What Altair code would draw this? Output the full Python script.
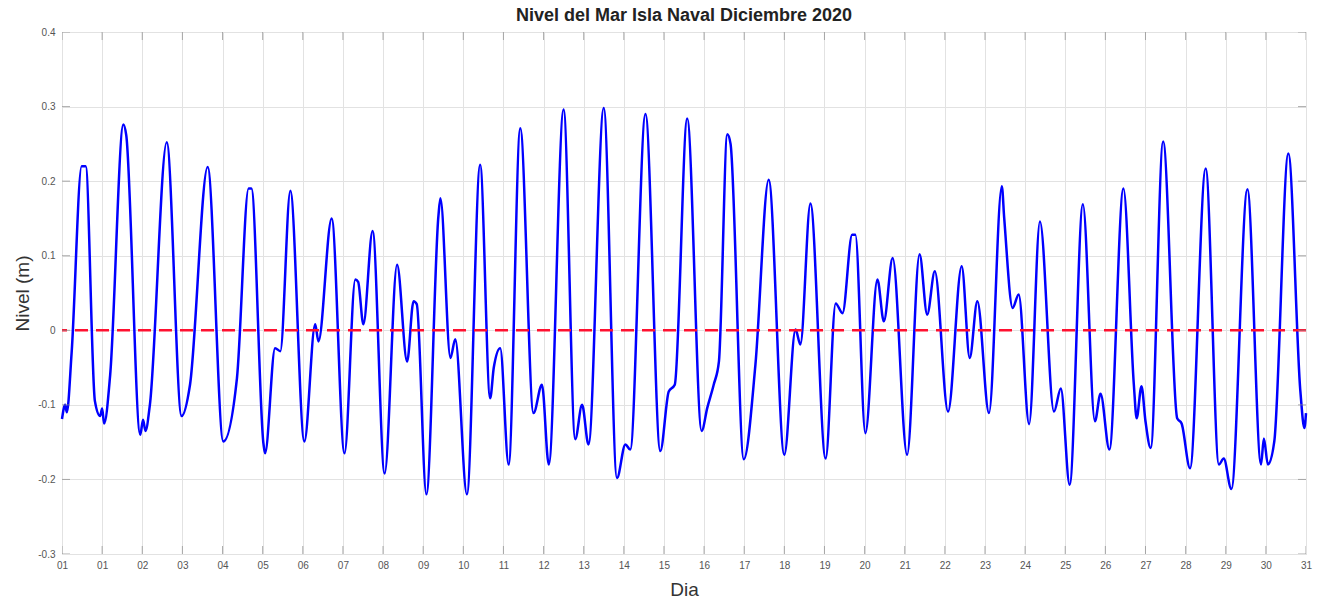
import altair as alt
import pandas as pd

# Time in days from 1 Dec 2020 00:00 (key points)
t_days = [
    0.00, 0.08, 0.12, 0.24, 0.49, 0.59, 0.82, 0.95, 1.00, 1.05, 1.20, 1.53, 1.60,
    1.95, 2.02, 2.08, 2.19, 2.61, 2.98, 3.19, 3.63, 4.02, 4.36, 4.65, 4.72,
    5.02, 5.06, 5.31, 5.44, 5.69, 6.04, 6.31, 6.39, 6.72, 7.04, 7.31, 7.38,
    7.51, 7.74, 8.04, 8.35, 8.60, 8.76, 8.84, 9.08, 9.38, 9.43, 9.68, 9.80,
    10.09, 10.42, 10.67, 10.76, 10.92, 11.13, 11.42, 11.75, 11.96, 12.13,
    12.50, 12.79, 12.96, 13.12, 13.50, 13.83, 14.04, 14.16, 14.54, 14.91,
    15.12, 15.27, 15.58, 15.94, 16.08, 16.24, 16.37, 16.58, 16.66, 16.99,
    17.28, 17.61, 18.00, 18.28, 18.40, 18.65, 19.03, 19.28, 19.45, 19.69,
    19.77, 20.02, 20.32, 20.48, 20.70, 21.06, 21.37, 21.56, 21.75, 22.08,
    22.42, 22.62, 22.81, 23.10, 23.42, 23.48, 23.69, 23.84, 24.10, 24.37,
    24.72, 24.89, 25.11, 25.44, 25.74, 25.88, 26.10, 26.45, 26.71, 26.78,
    26.90, 27.00, 27.13, 27.44, 27.79, 27.90, 28.11, 28.50, 28.83, 28.95,
    29.14, 29.54, 29.88, 29.95, 30.05, 30.21, 30.56, 30.86, 30.96, 31.00,
]
nivel = [
    -0.119, -0.100, -0.110, -0.030, 0.220, 0.220, -0.095, -0.115, -0.105, -0.125, -0.060, 0.276, 0.262,
    -0.140, -0.120, -0.135, -0.100, 0.252, -0.115, -0.073, 0.219, -0.149, -0.064, 0.190, 0.190,
    -0.152, -0.165, -0.024, -0.028, 0.187, -0.149, 0.008, -0.015, 0.150, -0.165, 0.068, 0.065,
    0.008, 0.133, -0.192, 0.088, -0.042, 0.039, 0.035, -0.220, 0.153, 0.177, -0.037, -0.012,
    -0.220, 0.222, -0.091, -0.050, -0.024, -0.180, 0.271, -0.111, -0.073, -0.180,
    0.296, -0.146, -0.100, -0.153, 0.298, -0.198, -0.153, -0.160, 0.290, -0.162,
    -0.082, -0.073, 0.284, -0.135, -0.104, -0.073, -0.042, 0.263, 0.250, -0.173,
    -0.046, 0.202, -0.167, 0.001, -0.019, 0.170, -0.172, 0.036, 0.023, 0.128,
    0.128, -0.138, 0.068, 0.012, 0.097, -0.167, 0.102, 0.021, 0.079, -0.109,
    0.086, -0.037, 0.039, -0.111, 0.193, 0.150, 0.030, 0.048, -0.126, 0.146,
    -0.109, -0.078, -0.207, 0.169, -0.122, -0.085, -0.160, 0.190, -0.073, -0.118,
    -0.075, -0.122, -0.158, 0.253, -0.118, -0.125, -0.185, 0.217, -0.180, -0.172,
    -0.213, 0.189, -0.180, -0.145, -0.180, -0.149, 0.237, -0.082, -0.131, -0.111,
]

x_ticks = list(range(0, 32))
y_ticks = [-0.3, -0.2, -0.1, 0.0, 0.1, 0.2, 0.3, 0.4]
title_text = "Nivel del Mar Isla Naval Diciembre 2020"

FONT = "Liberation Sans"
GRID = "#e2e2e2"
FRAME = "#8a8a8a"

df = pd.DataFrame({"t": t_days, "nivel": nivel})

x_scale = alt.Scale(domain=[0, 31], nice=False, zero=False)
y_scale = alt.Scale(domain=[-0.3, 0.4], nice=False, zero=False)

x_axis = alt.Axis(
    values=x_ticks,
    labelExpr="datum.value < 1 ? '01' : (datum.value < 10 ? '0' + datum.value : '' + datum.value)",
    title="Dia", grid=True, gridColor=GRID, ticks=False, domain=False,
    labelFlush=False, labelOverlap=False,
    labelFont=FONT, labelFontSize=10, labelColor="#555555", labelPadding=6,
    titleFont=FONT, titleFontSize=19, titleFontWeight="normal", titleColor="#333333",
    titlePadding=10,
)
y_axis = alt.Axis(
    values=y_ticks,
    labelExpr="datum.value == 0 ? '0' : (datum.value < 0 ? '-' : '') + format(abs(datum.value), '.1f')",
    title="Nivel (m)", grid=True, gridColor=GRID, ticks=False, domain=False,
    labelFlush=False, labelOverlap=False,
    labelFont=FONT, labelFontSize=10, labelColor="#555555", labelPadding=7,
    titleFont=FONT, titleFontSize=19, titleFontWeight="normal", titleColor="#333333",
    titlePadding=5,
)

line = alt.Chart(df).mark_line(color="#0000ff", strokeWidth=2.5, interpolate="monotone").encode(
    x=alt.X("t:Q", scale=x_scale, axis=x_axis),
    y=alt.Y("nivel:Q", scale=y_scale, axis=y_axis),
)

zero = alt.Chart(pd.DataFrame({"z": [0.0]})).mark_rule(
    color="#ff1030", strokeWidth=2.4, strokeDash=[13, 8]
).encode(y=alt.Y("z:Q", scale=y_scale))

xt = pd.DataFrame({"x": x_ticks * 2, "y": [-0.3] * len(x_ticks) + [0.4] * len(x_ticks)})
yt = pd.DataFrame({"x": [0] * len(y_ticks) + [31] * len(y_ticks), "y": y_ticks * 2})

xtick_marks = alt.Chart(xt).mark_tick(orient="vertical", clip=True, size=16, thickness=1, color=FRAME).encode(
    x=alt.X("x:Q", scale=x_scale), y=alt.Y("y:Q", scale=y_scale)
)
ytick_marks = alt.Chart(yt).mark_tick(orient="horizontal", clip=True, size=16, thickness=1, color=FRAME).encode(
    x=alt.X("x:Q", scale=x_scale), y=alt.Y("y:Q", scale=y_scale)
)

chart = alt.layer(line, zero, xtick_marks, ytick_marks).properties(
    width=1244,
    height=522,
    autosize=alt.AutoSizeParams(type="none"),
    padding={"left": 62, "top": 32, "right": 16, "bottom": 48},
    title=alt.TitleParams(
        text=title_text, font=FONT, fontSize=18, fontWeight="bold", color="#222222",
        anchor="middle", offset=2,
    ),
).configure_view(stroke=FRAME, strokeWidth=1.2).configure(background="white")

chart.save("out.html", embed_options={"renderer": "svg", "actions": False})
